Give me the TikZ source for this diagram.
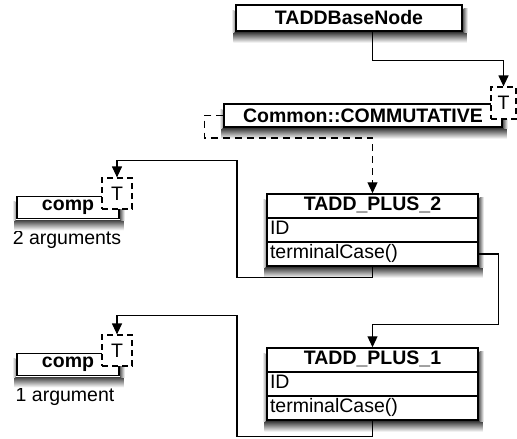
\documentclass[tikz,border=0pt]{standalone}
\usepackage{fontspec}
\setmainfont{Liberation Sans}
\usetikzlibrary{arrows.meta, shapes.multipart, calc}
\newcommand{\figfont}{\fontsize{19.5}{22.5}\selectfont}
\tikzset{
	box/.style={draw, line width=1.5pt, fill=white, inner sep=2pt, font=\figfont\bfseries},
	classbox/.style={draw, line width=1.5pt, fill=white, inner xsep=3pt, inner ysep=0pt,
		rectangle split, rectangle split parts=3, minimum width=211pt,
		rectangle split part align={center,left,left}},
	tbox/.style={draw, line width=1.2pt, dash pattern=on 6pt off 4pt, fill=white, inner sep=1pt},
	link/.style={line width=1.2pt, -{Triangle[width=10pt,length=11pt]}},
}
\begin{document}
\begin{tikzpicture}[x=1pt, y=1pt, font=\figfont]
	\useasboundingbox (0,0) rectangle (517,-439);
	\node[box, minimum width=226pt, minimum height=26pt](base) at (349,-18){TADDBaseNode};
	\node[box, minimum width=278pt, minimum height=23pt](comm) at (363,-115.5){Common::COMMUTATIVE};
	
	\node[classbox](plustwo) at (372.5,-230){\textbf{TADD\_PLUS\_2}\strut
		\nodepart{two}ID\strut
		\nodepart{three}terminalCase()\strut};
	\node[classbox](plusone) at (372.5,-384){\textbf{TADD\_PLUS\_1}\strut
		\nodepart{two}ID\strut
		\nodepart{three}terminalCase()\strut};
	
	\node[box, minimum width=102pt, minimum height=22pt](comptwo) at (68,-207.5){comp};
	\node(argstwo) at (67,-240){2 arguments};
	\node[box, minimum width=102pt, minimum height=22pt](compone) at (68,-364.5){comp};
	\node(argsone) at (65,-397){1 argument};
	
	\foreach \nd in {base,comm,plustwo,plusone,comptwo,compone}{
		\shade[top color=black!75, bottom color=white] ($(\nd.south west)+(-2,-0.8)$) rectangle ($(\nd.south east)+(4,-11)$);
		\shade[left color=black!55, right color=white] ($(\nd.north east)+(0.8,-4)$) rectangle ($(\nd.south east)+(5,-0.8)$);
		\shade[right color=black!35, left color=white] ($(\nd.north west)+(-4,-6)$) rectangle ($(\nd.south west)+(-0.8,-0.8)$);
	}
	
	\node[tbox, minimum width=25pt, minimum height=32pt](commT) at (503.5,-103){T};
	\node[tbox, minimum width=30pt, minimum height=31pt](comptwoT) at (117,-193.5){T};
	\node[tbox, minimum width=30pt, minimum height=31pt](componeT) at (117,-350.5){T};
	
	\draw[link] (base.south -| plustwo.north) -- ++(0,-29) -| (commT.north);
	\draw[link, dash pattern=on 7pt off 5pt] (comm.west) -- ++(-19,0) -- ++(0,-22.5) -| (plustwo.north);
	\draw[link] (plustwo.three east) -- ++(20,0) -- ++(0,-70.5) -| (plusone.north);
	\draw[link] (plustwo.south) -- ++(0,-11) -- ++(-135.5,0) -- ++(0,117) -| (comptwoT.north);
	\draw[link] (plusone.south) -- ++(0,-16) -- ++(-135.5,0) -- ++(0,121) -| (componeT.north);
\end{tikzpicture}
\end{document}
